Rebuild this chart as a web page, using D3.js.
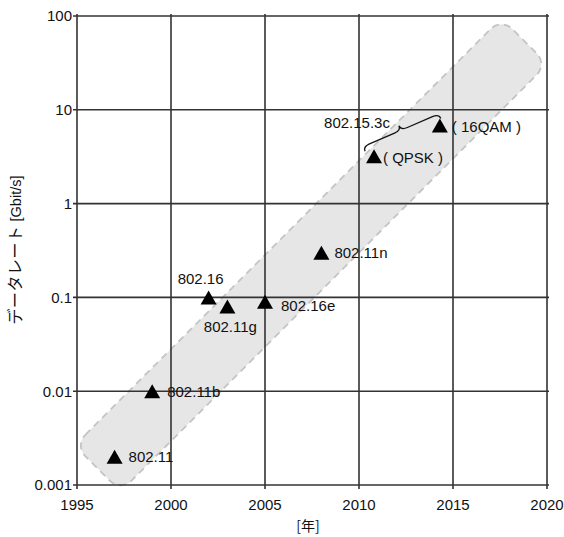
<!DOCTYPE html>
<html>
<head>
<meta charset="utf-8">
<script src="https://cdn.jsdelivr.net/npm/d3@7"></script>
<style>
  html, body { margin: 0; padding: 0; background: #fff; overflow: hidden; }
  svg { display: block; }
</style>
</head>
<body>
<svg id="chart" width="564" height="537"></svg>
<script>
// ---- data ----
const names = ["802.11", "802.11b", "802.16", "802.11g", "802.16e", "802.11n", "( QPSK )", "( 16QAM )"];
const years = [1997, 1999, 2002, 2003, 2005, 2008, 2010.8, 2014.3];
const rates = [0.002, 0.01, 0.1, 0.08, 0.09, 0.3, 3.2, 6.8];

const xTicks = [1995, 2000, 2005, 2010, 2015, 2020];
const yTicks = [0.001, 0.01, 0.1, 1, 10, 100];
const yTickLabels = ["0.001", "0.01", "0.1", "1", "10", "100"];

const braceLabel = "802.15.3c";
const bandYears = [1996.1, 2018.8];
const bandRates = [0.0015, 54];

const xTitle = "[年]";
const yTitleJa = "データレート";
const yTitleUnit = "[Gbit/s]";

// ---- layout ----
const labelPlacement = {
  "802.11":   {anchor: "start",  dx: 14,  dy: 0},
  "802.11b":  {anchor: "start",  dx: 15,  dy: 0},
  "802.16":   {anchor: "middle", dx: -8,  dy: -19},
  "802.11g":  {anchor: "middle", dx: 3,   dy: 20},
  "802.16e":  {anchor: "start",  dx: 16,  dy: 4},
  "802.11n":  {anchor: "start",  dx: 13,  dy: 0},
  "( QPSK )": {anchor: "start",  dx: 9,   dy: 1},
  "( 16QAM )":{anchor: "start",  dx: 12,  dy: 1}
};

const svg = d3.select("#chart");
const L = 77, R = 547, T = 16, B = 485;
const x = d3.scaleLinear().domain([1995, 2020]).range([L, R]);
const y = d3.scaleLog().domain([0.001, 100]).range([B, T]);

const latin = "'Liberation Sans', Arial, Helvetica, sans-serif";
const cjk = "'Noto Sans CJK JP', 'Noto Sans CJK SC', sans-serif";
const fs = 15;

// ---- band ----
const p0 = [x(bandYears[0]), y(bandRates[0])];
const p1 = [x(bandYears[1]), y(bandRates[1])];
const bandLen = Math.hypot(p1[0] - p0[0], p1[1] - p0[1]);
const bandAng = Math.atan2(p1[1] - p0[1], p1[0] - p0[0]) * 180 / Math.PI;
const bandW = 65;
svg.append("rect")
  .attr("x", -bandLen / 2).attr("y", -bandW / 2)
  .attr("width", bandLen).attr("height", bandW)
  .attr("rx", 15).attr("ry", 15)
  .attr("transform", `translate(${(p0[0] + p1[0]) / 2},${(p0[1] + p1[1]) / 2}) rotate(${bandAng})`)
  .attr("fill", "#e6e6e6")
  .attr("stroke", "#c4c4c4")
  .attr("stroke-width", 1.8)
  .attr("stroke-dasharray", "7,5");

// ---- grid ----
const gridColor = "#333";
const grid = svg.append("g");
grid.selectAll("line.v").data(xTicks).enter().append("line")
  .attr("x1", d => x(d)).attr("x2", d => x(d))
  .attr("y1", T - 2).attr("y2", B + 4)
  .attr("stroke", gridColor).attr("stroke-width", 1.6);
grid.selectAll("line.h").data(yTicks).enter().append("line")
  .attr("x1", L - 4).attr("x2", R + 2)
  .attr("y1", d => y(d)).attr("y2", d => y(d))
  .attr("stroke", gridColor).attr("stroke-width", 1.6);

// ---- tick labels ----
svg.append("g").selectAll("text").data(xTicks).enter().append("text")
  .attr("x", d => x(d)).attr("y", B + 20).attr("dy", "0.36em")
  .attr("text-anchor", "middle")
  .attr("font-family", latin).attr("font-size", fs).attr("fill", "#111")
  .text(d => d);
svg.append("g").selectAll("text").data(yTicks).enter().append("text")
  .attr("x", L - 5).attr("y", d => y(d)).attr("dy", "0.36em")
  .attr("text-anchor", "end")
  .attr("font-family", latin).attr("font-size", fs).attr("fill", "#111")
  .text((d, i) => yTickLabels[i]);

// ---- axis titles ----
svg.append("text")
  .attr("x", 308).attr("y", 526).attr("dy", "0.36em")
  .attr("text-anchor", "middle")
  .attr("font-family", cjk).attr("font-size", 14).attr("fill", "#111")
  .text(xTitle);
const yt = svg.append("text")
  .attr("transform", "translate(15,250) rotate(-90)")
  .attr("text-anchor", "middle").attr("dy", "0.36em")
  .attr("fill", "#111");
yt.append("tspan").attr("font-family", cjk).attr("font-size", 16).attr("letter-spacing", 0.5).text(yTitleJa);
yt.append("tspan").attr("font-family", latin).attr("font-size", 14.5).text(" " + yTitleUnit);

// ---- points ----
const pts = names.map((n, i) => ({name: n, year: years[i], rate: rates[i]}));
const tw = 16, th = 14;
svg.append("g").selectAll("path").data(pts).enter().append("path")
  .attr("d", `M0,${-th / 2}L${tw / 2},${th / 2}L${-tw / 2},${th / 2}Z`)
  .attr("transform", d => `translate(${x(d.year)},${y(d.rate)})`)
  .attr("fill", "#000");

svg.append("g").selectAll("text").data(pts).enter().append("text")
  .attr("x", d => x(d.year) + labelPlacement[d.name].dx)
  .attr("y", d => y(d.rate) + labelPlacement[d.name].dy)
  .attr("dy", "0.36em")
  .attr("text-anchor", d => labelPlacement[d.name].anchor)
  .attr("font-family", latin).attr("font-size", fs).attr("fill", "#111")
  .text(d => d.name);

// ---- brace ----
const qa = pts[6], qb = pts[7];
const bs = [x(qa.year) - 9, y(qa.rate) - 5];
const be = [x(qb.year) + 1, y(qb.rate) - 7];
const bl = Math.hypot(be[0] - bs[0], be[1] - bs[1]);
const ba = Math.atan2(be[1] - bs[1], be[0] - bs[0]) * 180 / Math.PI;
const h = 10, q = 7;
const bp = d3.path();
bp.moveTo(0, 0);
bp.quadraticCurveTo(0, -h / 2, q, -h / 2);
bp.lineTo(bl / 2 - q, -h / 2);
bp.quadraticCurveTo(bl / 2, -h / 2, bl / 2, -h);
bp.quadraticCurveTo(bl / 2, -h / 2, bl / 2 + q, -h / 2);
bp.lineTo(bl - q, -h / 2);
bp.quadraticCurveTo(bl, -h / 2, bl, 0);
svg.append("path")
  .attr("d", bp.toString())
  .attr("transform", `translate(${bs[0]},${bs[1]}) rotate(${ba})`)
  .attr("fill", "none").attr("stroke", "#111").attr("stroke-width", 1.3);

const tipX = (bs[0] + be[0]) / 2, tipY = (bs[1] + be[1]) / 2;
svg.append("text")
  .attr("x", tipX - 13).attr("y", tipY - 12).attr("dy", "0.36em")
  .attr("text-anchor", "end")
  .attr("font-family", latin).attr("font-size", fs).attr("fill", "#111")
  .text(braceLabel);
</script>
</body>
</html>
